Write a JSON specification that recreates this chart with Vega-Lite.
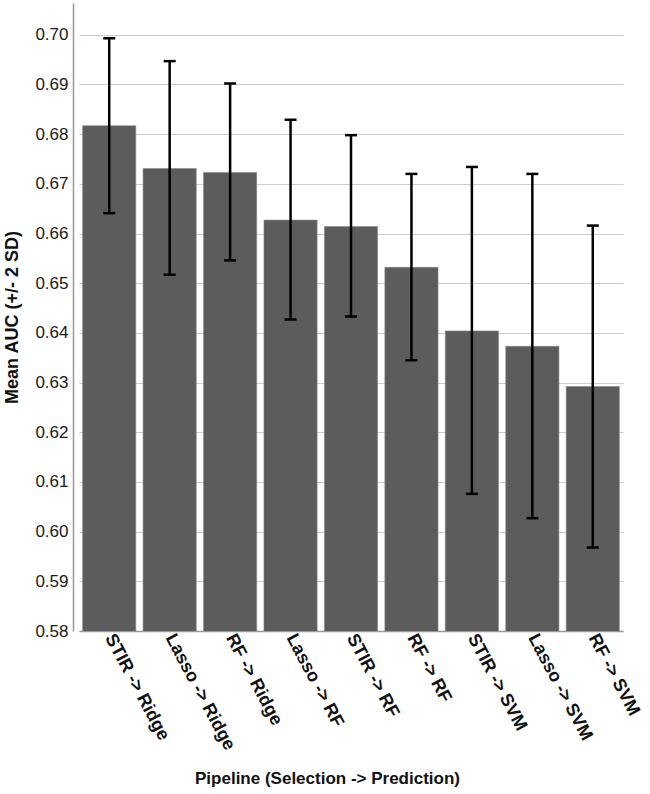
{
  "$schema": "https://vega.github.io/schema/vega-lite/v6.json",
  "width": 573,
  "height": 628,
  "autosize": {"type": "none"},
  "padding": {"left": 73, "top": 3, "right": 4, "bottom": 163},
  "background": "white",
  "config": {"view": {"stroke": null}, "font": "Liberation Sans"},
  "data": {
    "values": [
      {"pipeline": "STIR -> Ridge", "mean": 0.6817, "lo": 0.6641, "hi": 0.6993},
      {"pipeline": "Lasso -> Ridge", "mean": 0.6731, "lo": 0.6517, "hi": 0.6947},
      {"pipeline": "RF -> Ridge", "mean": 0.6723, "lo": 0.6546, "hi": 0.6902},
      {"pipeline": "Lasso -> RF", "mean": 0.6627, "lo": 0.6427, "hi": 0.6829},
      {"pipeline": "STIR -> RF", "mean": 0.6614, "lo": 0.6433, "hi": 0.6798},
      {"pipeline": "RF -> RF", "mean": 0.6532, "lo": 0.6345, "hi": 0.6720},
      {"pipeline": "STIR -> SVM", "mean": 0.6404, "lo": 0.6076, "hi": 0.6734},
      {"pipeline": "Lasso -> SVM", "mean": 0.6373, "lo": 0.6027, "hi": 0.6720},
      {"pipeline": "RF -> SVM", "mean": 0.6292, "lo": 0.5968, "hi": 0.6616}
    ]
  },
  "encoding": {
    "x": {
      "field": "pipeline",
      "type": "nominal",
      "sort": null,
      "scale": {"range": [6, 550], "paddingInner": 0.12, "paddingOuter": 0.06},
      "axis": {
        "title": "Pipeline (Selection -> Prediction)",
        "titleFontSize": 17,
        "titleFontWeight": "bold",
        "titleColor": "#111111",
        "titleX": 254,
        "titleY": 152,
        "titleAlign": "center",
        "titleBaseline": "alphabetic",
        "titleAnchor": null,
        "labelAngle": 62,
        "labelAlign": "left",
        "labelBaseline": "middle",
        "labelFontSize": 18,
        "labelFontWeight": "bold",
        "labelColor": "#111111",
        "labelPadding": 4,
        "labelLimit": 300,
        "ticks": false,
        "domainColor": "#999999",
        "domainWidth": 1.5
      }
    }
  },
  "layer": [
    {
      "mark": {"type": "bar", "color": "#5c5c5c", "stroke": "#888888", "strokeWidth": 0.6, "clip": true},
      "encoding": {
        "y": {
          "field": "mean",
          "type": "quantitative",
          "scale": {"domain": [0.58, 0.7064], "zero": false, "nice": false},
          "axis": {
            "values": [0.58, 0.59, 0.6, 0.61, 0.62, 0.63, 0.64, 0.65, 0.66, 0.67, 0.68, 0.69, 0.7],
            "format": ".2f",
            "grid": true,
            "gridColor": "#cccccc",
            "gridWidth": 1.2,
            "ticks": false,
            "domainColor": "#999999",
            "domainWidth": 1.5,
            "labelFontSize": 17,
            "labelColor": "#1a1a1a",
            "labelPadding": 5,
            "title": "Mean AUC (+/- 2 SD)",
            "titleFontSize": 18,
            "titleFontWeight": "bold",
            "titleColor": "#111111",
            "titleX": -61,
            "titleY": 314,
            "titleAlign": "center",
            "titleBaseline": "middle",
            "titleAnchor": null
          }
        }
      }
    },
    {
      "mark": {"type": "rule", "color": "black", "strokeWidth": 2.5},
      "encoding": {
        "y": {"field": "lo", "type": "quantitative"},
        "y2": {"field": "hi"}
      }
    },
    {
      "mark": {"type": "tick", "color": "black", "thickness": 2.5, "size": 12, "opacity": 1},
      "encoding": {"y": {"field": "lo", "type": "quantitative"}}
    },
    {
      "mark": {"type": "tick", "color": "black", "thickness": 2.5, "size": 12, "opacity": 1},
      "encoding": {"y": {"field": "hi", "type": "quantitative"}}
    }
  ]
}
